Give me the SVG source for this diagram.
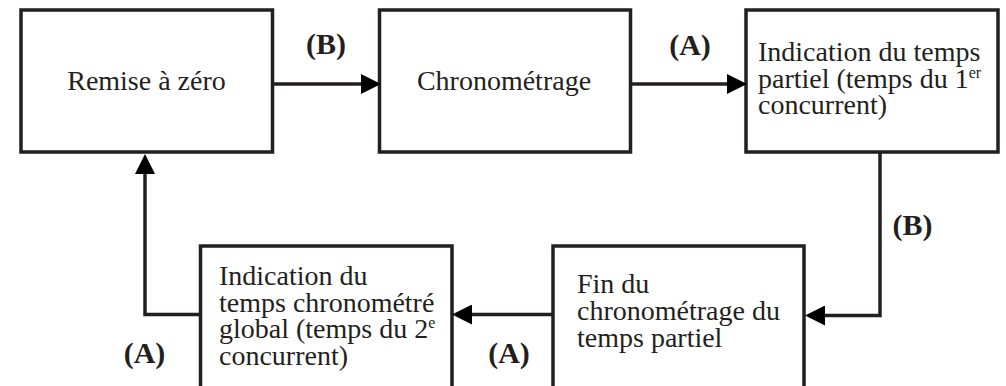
<svg xmlns="http://www.w3.org/2000/svg" width="1006" height="386" viewBox="0 0 1006 386">
  <style>
    .box { fill: #ffffff; stroke: #231f20; stroke-width: 3.5; }
    .txt { font-family: "Liberation Serif", "Times New Roman", serif; font-size: 28px; fill: #231f20; }
    .sup { font-size: 16px; }
    .lbl { font-family: "Liberation Serif", "Times New Roman", serif; font-size: 30px; font-weight: bold; fill: #231f20; text-anchor: middle; }
    .conn { fill: none; stroke: #231f20; stroke-width: 3.5; }
  </style>
  <defs>
    <marker id="arrow" markerUnits="userSpaceOnUse" markerWidth="20" markerHeight="20" refX="0" refY="10" orient="auto">
      <path d="M0,0 L20,10 L0,20 Z" fill="#000000"/>
    </marker>
  </defs>
  <rect width="1006" height="386" fill="#ffffff"/>

  <g id="node-remise">
    <rect class="box" x="21" y="10" width="251.5" height="142"/>
    <text class="txt" x="146.5" y="89.5" text-anchor="middle">Remise à zéro</text>
  </g>

  <g id="node-chronometrage">
    <rect class="box" x="379.5" y="10" width="251" height="142"/>
    <text class="txt" x="504" y="89.5" text-anchor="middle">Chronométrage</text>
  </g>

  <g id="node-indication-partiel">
    <rect class="box" x="746" y="10" width="252" height="142"/>
    <text class="txt" x="758" y="61">Indication du temps</text>
    <text class="txt" x="758" y="87.5">partiel (temps du 1<tspan class="sup" dy="-10">er</tspan></text>
    <text class="txt" x="758" y="114">concurrent)</text>
  </g>

  <g id="node-fin-partiel">
    <rect class="box" x="553" y="246" width="251" height="160"/>
    <text class="txt" x="577" y="293">Fin du</text>
    <text class="txt" x="577" y="320">chronométrage du</text>
    <text class="txt" x="577" y="346.5">temps partiel</text>
  </g>

  <g id="node-indication-global">
    <rect class="box" x="200.5" y="246" width="251.5" height="160"/>
    <text class="txt" x="219" y="285">Indication du</text>
    <text class="txt" x="219" y="311.5">temps chronométré</text>
    <text class="txt" x="219" y="338">global (temps du 2<tspan class="sup" dy="-10">e</tspan></text>
    <text class="txt" x="219" y="364.5">concurrent)</text>
  </g>

  <g id="connectors">
    <path class="conn" d="M272.5,84 L361,84" marker-end="url(#arrow)"/>
    <path class="conn" d="M630.5,84 L727,84" marker-end="url(#arrow)"/>
    <path class="conn" d="M880,152 L880,315.5 L825,315.5" marker-end="url(#arrow)"/>
    <path class="conn" d="M553,314.5 L472,314.5" marker-end="url(#arrow)"/>
    <path class="conn" d="M200.5,314.5 L145,314.5 L145,174" marker-end="url(#arrow)"/>
  </g>

  <g id="labels">
    <text class="lbl" x="326" y="53.5">(B)</text>
    <text class="lbl" x="690" y="55">(A)</text>
    <text class="lbl" x="912.5" y="235">(B)</text>
    <text class="lbl" x="144.5" y="363">(A)</text>
    <text class="lbl" x="509" y="363">(A)</text>
  </g>
</svg>
